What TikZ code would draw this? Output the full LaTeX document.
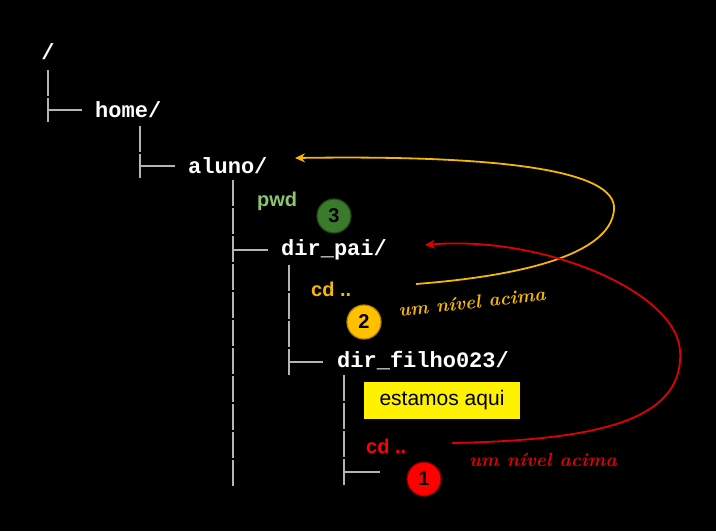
\documentclass[tikz,border=0pt]{standalone}
\usepackage{fontspec}
\setmainfont{Liberation Sans}
\newfontfamily\monob{Liberation Mono}
\newfontfamily\scriptf{Latin Modern Roman}
\usetikzlibrary{arrows.meta}
\definecolor{treegray}{HTML}{B4B4B4}
\definecolor{pwdgreen}{HTML}{8CC66B}
\definecolor{dkgreen}{HTML}{3B7A2A}
\definecolor{gold}{HTML}{F5B800}
\definecolor{goldfill}{HTML}{FFC000}
\definecolor{redt}{HTML}{FF0000}
\definecolor{redc}{HTML}{E00000}
\tikzset{
  dirname/.style={anchor=west, inner sep=0pt, text=white, font=\monob\bfseries\fontsize{22}{22}\selectfont},
  cmd/.style={anchor=west, inner sep=0pt, font=\bfseries\fontsize{20}{20}\selectfont},
  tree/.style={draw=treegray, line width=2pt, dash pattern=on 26pt off 2pt},
  treeh/.style={draw=treegray, line width=2pt},
  badge/.style={circle, minimum size=34pt, inner sep=0pt, line width=1.2pt, font=\bfseries\fontsize{20}{20}\selectfont, text=black},
  note/.style={inner sep=0pt, font=\scriptf\bfseries\itshape\fontsize{19}{19}\selectfont},
  jump/.style={line width=1.8pt, -{Stealth[length=10pt,width=9pt]}}
}
\begin{document}
\begin{tikzpicture}[x=1pt,y=-1pt]
\fill[black] (0,0) rectangle (716,531);
\useasboundingbox (0,0) rectangle (716,531);

% directory names
\node[dirname, anchor=center] (root) at (48,52) {/};
\node[dirname] (home) at (95,110) {home/};
\node[dirname] (aluno) at (188,166) {aluno/};
\node[dirname] (pai) at (281,250) {dir\_pai/};
\node[dirname] (filho) at (337,361) {dir\_filho023/};

% tree lines
\coordinate (v0t) at (48,70);  \coordinate (v0b) at (48,122); \coordinate (v0j) at (48,110); \coordinate (v0e) at (82,110);
\coordinate (v1t) at (140,126); \coordinate (v1b) at (140,178); \coordinate (v1j) at (140,166); \coordinate (v1e) at (175,166);
\coordinate (v2t) at (233,180); \coordinate (v2b) at (233,486); \coordinate (v2j) at (233,250); \coordinate (v2e) at (268,250);
\coordinate (v3t) at (289,265); \coordinate (v3b) at (289,375); \coordinate (v3j) at (289,362); \coordinate (v3e) at (323,362);
\coordinate (v4t) at (344,375); \coordinate (v4b) at (344,486); \coordinate (v4j) at (344,472); \coordinate (v4e) at (380,472);
\draw[tree] (v0t) -- (v0b); \draw[treeh] (v0j) -- (v0e);
\draw[tree] (v1t) -- (v1b); \draw[treeh] (v1j) -- (v1e);
\draw[tree] (v2t) -- (v2b); \draw[treeh] (v2j) -- (v2e);
\draw[tree] (v3t) -- (v3b); \draw[treeh] (v3j) -- (v3e);
\draw[tree] (v4t) -- (v4b); \draw[treeh] (v4j) -- (v4e);

% commands
\node[cmd, text=pwdgreen] (pwd) at (257,201) {pwd};
\node[cmd, text=gold] (cdA) at (311,289) {cd ..};
\node[cmd, text=redt] (cdB) at (366,446) {cd ..};

% badges
\node[badge, fill=dkgreen, draw=dkgreen!60!black] (b3) at (334,216) {3};
\node[badge, fill=goldfill, draw=goldfill!70!black] (b2) at (364,322) {2};
\node[badge, fill=redt, draw=redt!50!black] (b1) at (424,479) {1};

% yellow box
\node[fill=yellow, minimum width=156pt, minimum height=37pt, inner sep=0pt, text=black,
      font=\fontsize{21}{21}\selectfont] (aqui) at (442,400) {estamos aqui};

% notes
\node[note, text=gold, rotate=6] (noteA) at (472,302) {um nível acima};
\node[note, text=redc] (noteB) at (543,460) {um nível acima};

% curved arrows
\coordinate (oS) at (416,284);
\coordinate (oE) at (295,158);
\draw[jump, draw=gold] (oS) .. controls (520,276) and (610,255) .. (614,210)
   .. controls (618,170) and (500,155) .. (oE);
\coordinate (rS) at (452,443);
\coordinate (rE) at (425,245);
\draw[jump, draw=redc] (rS) .. controls (600,440) and (685,420) .. (680,350)
   .. controls (675,290) and (540,235) .. (rE);
\end{tikzpicture}
\end{document}
